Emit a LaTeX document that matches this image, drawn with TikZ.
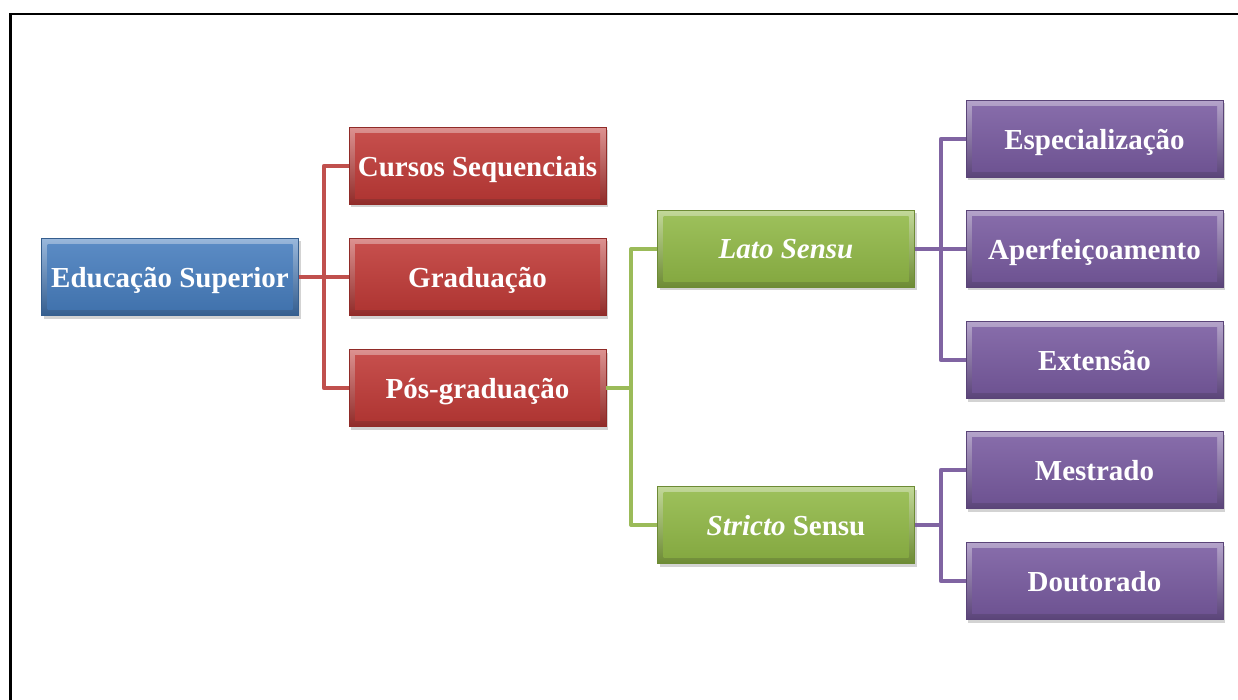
\documentclass[tikz,border=0pt]{standalone}
\usepackage{fontspec}
\setmainfont{Liberation Serif}
\usetikzlibrary{positioning,shadows}
\definecolor{azulES}{RGB}{70,125,190}
\definecolor{vermelhoES}{RGB}{192,57,54}
\definecolor{verdeES}{RGB}{145,185,70}
\definecolor{roxoES}{RGB}{120,90,160}
\definecolor{linhaVermelha}{RGB}{192,80,77}
\definecolor{linhaVerde}{RGB}{155,187,89}
\definecolor{linhaRoxa}{RGB}{128,100,162}
\tikzset{
  caixa/.style={rectangle, minimum width=257pt, minimum height=77pt, inner sep=0pt,
    text=white, font=\fontsize{29}{33}\selectfont\bfseries, text depth=0pt,
    draw=#1!75!black, line width=0.5pt,
    top color=#1!55!white, bottom color=#1!75!black,
    drop shadow={opacity=0.35, shadow xshift=2pt, shadow yshift=-3pt},
    path picture={\shade[top color=#1!88!white, bottom color=#1!90!black]
      ([shift={(6pt,-6pt)}]path picture bounding box.north west) rectangle
      ([shift={(-6pt,6pt)}]path picture bounding box.south east);}},
  ligacao/.style={draw=#1, line width=4pt, line join=round}
}
\begin{document}
\begin{tikzpicture}[x=1pt, y=-1pt]
    \useasboundingbox (0,0) rectangle (1238,700);
    % Moldura
    \draw[line width=2.2pt] (10.5,700) -- (10.5,14) -- (1238,14);

    % Raiz
    \node[caixa=azulES] (edu) at (170,277) {Educação Superior};

    % Primeiro nivel
    \node[caixa=vermelhoES] (cursos) at (477.5,166) {Cursos Sequenciais};
    \node[caixa=vermelhoES] (grad) at (477.5,277) {Graduação};
    \node[caixa=vermelhoES] (pos) at (477.5,388) {Pós-graduação};

    % Pos-graduacao
    \node[caixa=verdeES] (lato) at (786,249) {\textit{Lato Sensu}};
    \node[caixa=verdeES] (stricto) at (786,525) {\textit{Stricto} Sensu};

    % Cursos
    \node[caixa=roxoES] (espec) at (1094.5,139) {Especialização};
    \node[caixa=roxoES] (aperf) at (1094.5,249) {Aperfeiçoamento};
    \node[caixa=roxoES] (ext) at (1094.5,360) {Extensão};
    \node[caixa=roxoES] (mest) at (1094.5,470) {Mestrado};
    \node[caixa=roxoES] (dout) at (1094.5,581) {Doutorado};

    % Ligacoes
    \draw[ligacao=linhaVermelha] (edu.east) -- ++(25,0) |- (cursos.west);
    \draw[ligacao=linhaVermelha] (edu.east) -- (grad.west);
    \draw[ligacao=linhaVermelha] (edu.east) -- ++(25,0) |- (pos.west);

    \draw[ligacao=linhaVerde] (pos.east) -- ++(25,0) |- (lato.west);
    \draw[ligacao=linhaVerde] (pos.east) -- ++(25,0) |- (stricto.west);

    \draw[ligacao=linhaRoxa] (lato.east) -- ++(26,0) |- (espec.west);
    \draw[ligacao=linhaRoxa] (lato.east) -- (aperf.west);
    \draw[ligacao=linhaRoxa] (lato.east) -- ++(26,0) |- (ext.west);

    \draw[ligacao=linhaRoxa] (stricto.east) -- ++(26,0) |- (mest.west);
    \draw[ligacao=linhaRoxa] (stricto.east) -- ++(26,0) |- (dout.west);
\end{tikzpicture}
\end{document}
